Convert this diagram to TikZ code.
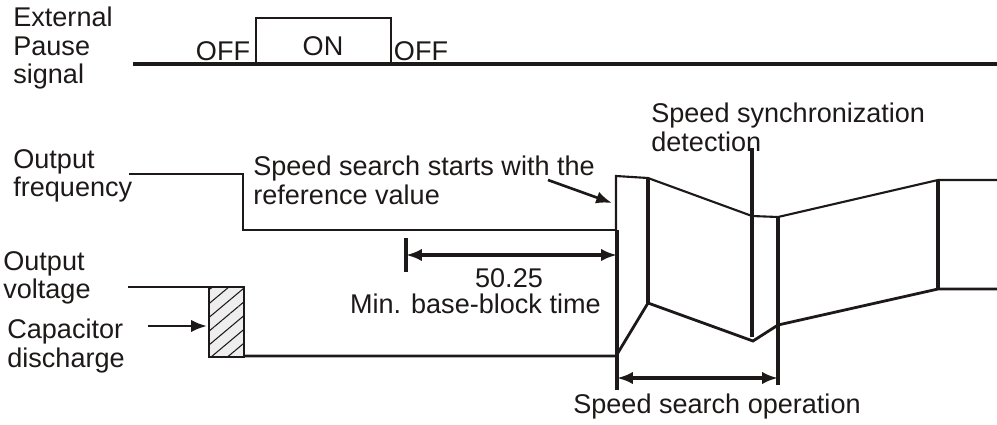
\documentclass[tikz,border=0pt]{standalone}
\usepackage{fontspec}
\setmainfont{Liberation Sans}
\usetikzlibrary{arrows.meta, positioning, patterns.meta}
\definecolor{hatchfill}{RGB}{238,238,238}
\definecolor{ink}{RGB}{30,25,25}

\tikzset{
  lbl/.style={font=\fontsize{15.4}{16.1}\selectfont, text=ink, inner sep=0pt, align=left},
  wave/.style={draw=ink, line width=1.2pt, line join=miter},
  bar/.style={draw=ink, line width=1.9pt},
  pointer/.style={draw=ink, line width=1.5pt, -{Latex[length=9pt,width=7pt]}},
  span/.style={draw=ink, line width=1.8pt, {Latex[length=9pt,width=7pt]}-{Latex[length=9pt,width=7pt]}},
}

\begin{document}
\begin{tikzpicture}[x=0.02cm, y=-0.02cm]
  \useasboundingbox (0,0) rectangle (997,424);

  % signal names on the left
  \node[lbl, anchor=north west] (pause) at (13,7) {External\\Pause\\signal};
  \node[lbl, anchor=north west] (freq) at (13,149) {Output\\frequency};
  \node[lbl, anchor=north west] (volt) at (3,251) {Output\\voltage};
  \node[lbl, anchor=north west] (cap) at (7,319) {Capacitor\\discharge};

  % pause signal
  \draw[bar] (133,64) -- (997,64);
  \draw[wave] (256,64) -- (256,18) -- (391,18) -- (391,64);
  \node[lbl, anchor=base] (off1) at (223,60) {OFF};
  \node[lbl, anchor=base] (on) at (323,55) {ON};
  \node[lbl, anchor=base] (off2) at (421,60) {OFF};

  % output frequency
  \draw[wave] (129,174) -- (243,174) -- (243,230) -- (616,230);
  \draw[wave] (616,230) -- (616,176) -- (648,178) -- (752,216) -- (778,217)
    -- (938,180) -- (997,180);

  % output voltage
  \draw[wave, line width=1.6pt] (128,287) -- (209,287);
  \draw[draw=ink, line width=1.6pt, fill=hatchfill] (209,287) rectangle (244,357);
  \fill[pattern={Lines[angle=40, distance=6pt, line width=0.6pt]}, pattern color=ink]
    (209,287) rectangle (244,357);
  \draw[draw=ink, line width=1.6pt] (209,287) rectangle (244,357);
  \draw[wave, line width=1.6pt] (244,356) -- (616,356) -- (648,303) -- (753,341)
    -- (778,325) -- (938,289) -- (997,289);

  % time markers
  \draw[bar] (617,230) -- (617,390);
  \draw[bar] (648,178) -- (648,303);
  \draw[bar] (752,148) -- (752,337);
  \draw[bar] (778,217) -- (778,385);
  \draw[bar] (938,180) -- (938,289);
  \draw[bar] (406,238) -- (406,272);

  % base-block time
  \coordinate (bbstart) at (406,255);
  \coordinate (bbend) at (617,255);
  \draw[span] (bbstart) -- (bbend);
  \node[lbl, anchor=base] (bbval) at (509,287) {50.25};
  \node[lbl, anchor=base east] (bblbl) at (601,313) {Min. base-block time};

  % speed search operation
  \coordinate (opstart) at (617,378);
  \coordinate (opend) at (778,378);
  \draw[span] (opstart) -- (opend);
  \node[lbl, anchor=base] (op) at (717,413) {Speed search operation};

  % notes with pointers
  \node[lbl, anchor=north west] (start) at (253,156)
    {Speed search starts with the\\reference value};
  \coordinate (ptrfrom) at (548,180);
  \coordinate (ptrto) at (612,203);
  \draw[pointer] (ptrfrom) -- (ptrto);

  \node[lbl, anchor=north west] (sync) at (651,103)
    {Speed synchronization\\detection};

  \coordinate (capfrom) at (148,326);
  \coordinate (capto) at (207,326);
  \draw[pointer] (capfrom) -- (capto);
\end{tikzpicture}
\end{document}
